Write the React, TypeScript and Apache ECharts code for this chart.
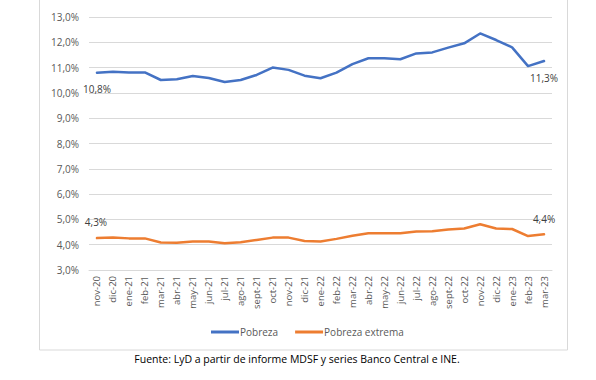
import React, { useEffect, useRef } from "react";
import * as echarts from "echarts";

const categories = [
  "nov-20", "dic-20", "ene-21", "feb-21", "mar-21", "abr-21", "may-21", "jun-21",
  "jul-21", "ago-21", "sept-21", "oct-21", "nov-21", "dic-21", "ene-22", "feb-22",
  "mar-22", "abr-22", "may-22", "jun-22", "jul-22", "ago-22", "sept-22", "oct-22",
  "nov-22", "dic-22", "ene-23", "feb-23", "mar-23",
];
const pobreza = [
  10.8, 10.84, 10.81, 10.81, 10.51, 10.54, 10.67, 10.59, 10.43, 10.51, 10.71, 11.0,
  10.91, 10.68, 10.58, 10.8, 11.14, 11.37, 11.37, 11.33, 11.56, 11.6, 11.79, 11.96,
  12.35, 12.09, 11.8, 11.06, 11.26,
];
const pobrezaExtrema = [
  4.26, 4.28, 4.25, 4.25, 4.09, 4.08, 4.13, 4.13, 4.06, 4.1, 4.19, 4.28,
  4.28, 4.15, 4.13, 4.23, 4.35, 4.45, 4.45, 4.45, 4.52, 4.53, 4.6, 4.64,
  4.81, 4.64, 4.62, 4.34, 4.41,
];
const seriesNames = ["Pobreza", "Pobreza extrema"];
const sourceText = "Fuente: LyD a partir de informe MDSF y series Banco Central e INE.";

const fmt = (v: number) => v.toFixed(1).replace(".", ",") + "%";
const FONT = "'Open Sans', 'Noto Sans', sans-serif";

export default function App() {
  const ref = useRef<HTMLDivElement>(null);
  useEffect(() => {
    if (!ref.current) return;
    const chart = echarts.init(ref.current, null, { renderer: "svg" });
    const labelStyle = { fontFamily: FONT, fontSize: 10, color: "#404040" };
    const last = categories.length - 1;
    const withLabels = (arr: number[], firstLbl: any, lastLbl: any) =>
      arr.map((v, i) => {
        if (i === 0) return { value: v, label: { show: true, ...labelStyle, ...firstLbl, formatter: fmt(v) } };
        if (i === last) return { value: v, label: { show: true, ...labelStyle, ...lastLbl, formatter: fmt(v) } };
        return { value: v, label: { show: false } };
      });
    chart.setOption({
      animation: false,
      grid: { left: 89, right: 44, top: 17, bottom: 110, containLabel: false },
      xAxis: {
        type: "category",
        data: categories,
        boundaryGap: true,
        axisLine: { show: true, lineStyle: { color: "#d9d9d9" } },
        axisTick: { show: false },
        axisLabel: { rotate: 90, fontFamily: FONT, fontSize: 9.5, color: "#595959", margin: 6, interval: 0 },
      },
      yAxis: {
        type: "value",
        min: 3,
        max: 13,
        interval: 1,
        axisLine: { show: false },
        axisTick: { show: false },
        splitLine: { lineStyle: { color: "#d9d9d9" } },
        axisLabel: { formatter: (v: number) => fmt(v), fontFamily: FONT, fontSize: 10, color: "#595959", margin: 10 },
      },
      legend: {
        data: seriesNames,
        left: 206,
        top: 322,
        icon: "rect",
        itemWidth: 28,
        itemHeight: 3,
        itemGap: 17,
        textStyle: { fontFamily: FONT, fontSize: 10, color: "#595959", padding: [0, 0, 0, -4] },
      },
      series: [
        {
          name: seriesNames[0],
          type: "line",
          data: withLabels(pobreza, { position: "bottom", offset: [0, 6] }, { position: "bottom", offset: [0, 7] }),
          symbol: "circle",
          symbolSize: 0,
          showSymbol: true,
          lineStyle: { color: "#4472C4", width: 2.5, join: "round", cap: "round" },
          itemStyle: { color: "#4472C4" },
        },
        {
          name: seriesNames[1],
          type: "line",
          data: withLabels(pobrezaExtrema, { position: "top", offset: [-1, -6] }, { position: "top", offset: [0, -5] }),
          symbol: "circle",
          symbolSize: 0,
          showSymbol: true,
          lineStyle: { color: "#ED7D31", width: 2.5, join: "round", cap: "round" },
          itemStyle: { color: "#ED7D31" },
        },
      ],
      graphic: [
        {
          type: "rect",
          shape: { x: 39.5, y: -2, width: 528, height: 352 },
          style: { fill: "none", stroke: "#d9d9d9", lineWidth: 1 },
          silent: true,
        },
        {
          type: "text",
          x: 297,
          y: 359,
          style: { text: sourceText, fontFamily: FONT, fontSize: 10.5, fill: "#000", align: "center", verticalAlign: "middle" },
        },
      ],
    });
    return () => chart.dispose();
  }, []);
  return <div ref={ref} style={{ position: "fixed", left: 0, top: 0, width: 596, height: 380, background: "#fff" }} />;
}
